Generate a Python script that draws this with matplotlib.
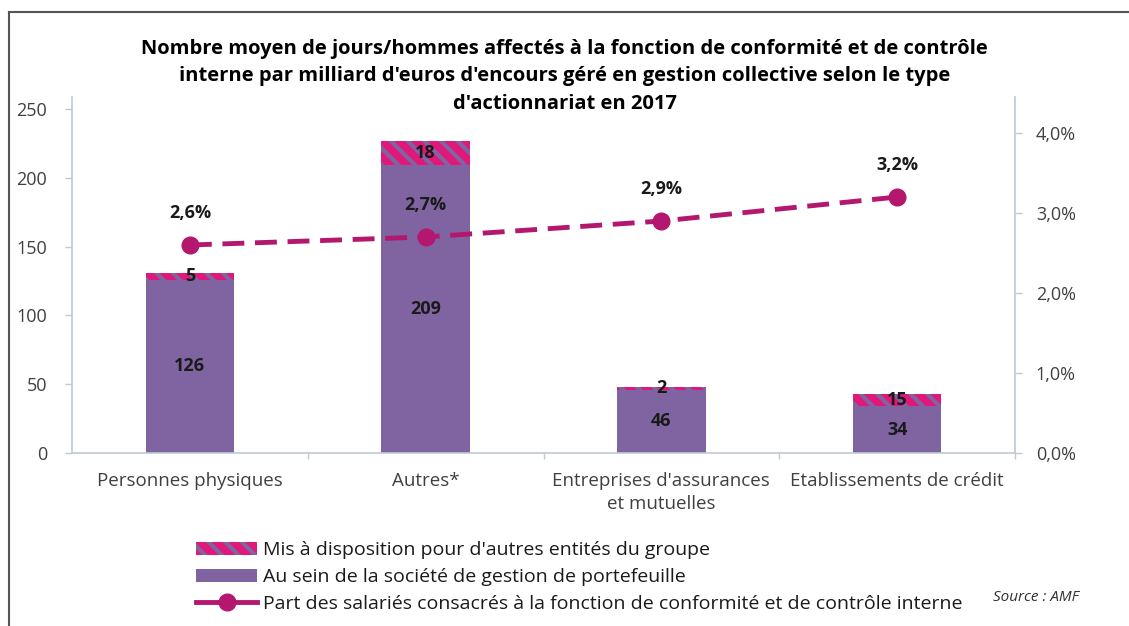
import matplotlib
matplotlib.use("Agg")
import matplotlib.pyplot as plt
from matplotlib.patches import Patch
from matplotlib.lines import Line2D
from matplotlib.ticker import FuncFormatter, FixedLocator

plt.rcParams['font.family'] = ['Open Sans', 'DejaVu Sans']
plt.rcParams['hatch.linewidth'] = 3.0

categories = ["Personnes physiques", "Autres*", "Entreprises d'assurances\net mutuelles", "Etablissements de crédit"]
interne = [126, 209, 46, 34]
mis_a_dispo = [5, 18, 2, 9]
mis_a_dispo_labels = ["5", "18", "2", "15"]
part_salaries = [2.6, 2.7, 2.9, 3.2]
left_ticks = [0, 50, 100, 150, 200, 250]
right_ticks = [0, 1, 2, 3, 4]

title = ("Nombre moyen de jours/hommes affectés à la fonction de conformité et de contrôle\n"
         "interne par milliard d'euros d'encours géré en gestion collective selon le type\n"
         "d'actionnariat en 2017")
leg_labels = ["Mis à disposition pour d'autres entités du groupe",
              "Au sein de la société de gestion de portefeuille",
              "Part des salariés consacrés à la fonction de conformité et de contrôle interne"]

purple = "#8064A2"
pink = "#E0187A"
line_col = "#B3176E"
axis_col = "#BFC9D1"
txt = "#404040"
fs = 13

fig = plt.figure(figsize=(11.29, 6.26), dpi=100)
ax = fig.add_axes([0.0638, 0.2764, 0.899 - 0.0638, 0.845 - 0.2764])
x = list(range(len(categories)))
w = 0.375

ax.bar(x, interne, width=w, color=purple, linewidth=0, zorder=2)
ax.bar(x, mis_a_dispo, width=w, bottom=interne, facecolor=pink,
       edgecolor=purple, hatch='\\\\', linewidth=0, zorder=2)

for xi, v in zip(x, interne):
    ax.text(xi, v / 2, str(v), ha='center', va='center', fontsize=fs,
            fontweight='bold', color='#1a1a1a', zorder=5)
for xi, base, v, lab in zip(x, interne, mis_a_dispo, mis_a_dispo_labels):
    ax.text(xi, base + v / 2, lab, ha='center', va='center', fontsize=fs,
            fontweight='bold', color='#1a1a1a', zorder=5)

ax.set_xlim(-0.5, 3.5)
ax.set_ylim(0, 258.7)
ax.set_yticks(left_ticks)
ax.set_xticks(x)
ax.set_xticklabels(categories, fontsize=13.5, color=txt, linespacing=1.35)
ax.xaxis.set_minor_locator(FixedLocator([0.5, 1.5, 2.5, 3.5]))
ax.tick_params(axis='x', which='major', length=0, pad=14)
ax.tick_params(axis='x', which='minor', length=4, color=axis_col, width=1)
ax.tick_params(axis='y', labelsize=fs, labelcolor=txt, color=axis_col, length=5, width=1, pad=13)
for s in ['top', 'right']:
    ax.spines[s].set_visible(False)
for s in ['left', 'bottom']:
    ax.spines[s].set_color(axis_col)
    ax.spines[s].set_linewidth(1.2)

ax2 = ax.twinx()
ax2.set_ylim(0, 4.45)
ax2.set_yticks(right_ticks)
ax2.yaxis.set_major_formatter(FuncFormatter(lambda v, p: f"{v:.1f}%".replace('.', ',')))
ax2.tick_params(axis='y', labelsize=fs, labelcolor=txt, color=axis_col, length=5, width=1, pad=10)
for s in ['top', 'left', 'bottom']:
    ax2.spines[s].set_visible(False)
ax2.spines['right'].set_color(axis_col)
ax2.spines['right'].set_linewidth(1.2)

ax2.plot(x, part_salaries, color=line_col, linewidth=3.5, dashes=(4.5, 2.2),
         marker='o', markersize=12, markerfacecolor=line_col, markeredgecolor=line_col, zorder=4)
for xi, v in zip(x, part_salaries):
    ax2.annotate(f"{v:.1f}%".replace('.', ','), (xi, v), xytext=(0, 23),
                 textcoords='offset points', ha='center', va='center',
                 fontsize=fs, fontweight='bold', color='#1a1a1a')

fig.text(0.5, 0.878, title, ha='center', va='center', fontsize=14.5,
         fontweight='bold', color='black', linespacing=1.5)

handles = [Patch(facecolor=pink, edgecolor=purple, hatch='\\\\', linewidth=0),
           Patch(facecolor=purple, linewidth=0),
           Line2D([0], [0], color=line_col, linewidth=3.5, marker='o', markersize=12)]
leg = fig.legend(handles, leg_labels, loc='upper left', bbox_to_anchor=(0.174, 0.135),
                 frameon=False, fontsize=14, handlelength=3.1, handleheight=0.7,
                 handletextpad=0.3, labelspacing=0.45, borderaxespad=0, borderpad=0)
for t in leg.get_texts():
    t.set_color('#1a1a1a')

fig.text(0.918, 0.046, "Source : AMF", ha='center', va='center', fontsize=11,
         style='italic', color='#303030')

# chart frame
fig.add_artist(Line2D([0.008, 1.0], [0.981, 0.981], color='#555555', linewidth=1.5))
fig.add_artist(Line2D([0.008, 0.008], [0.0, 0.981], color='#555555', linewidth=1.5))

fig.savefig("out.png", dpi=100)
